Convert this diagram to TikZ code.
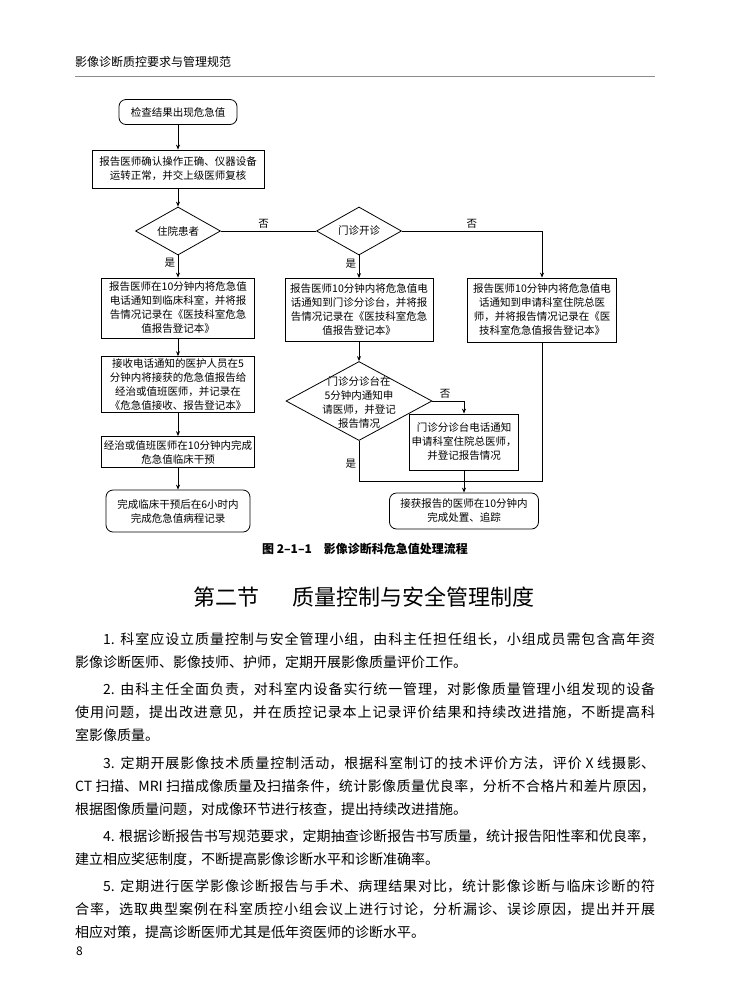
\documentclass[tikz,border=0pt]{standalone}
\usepackage{fontspec}
\setmainfont{Noto Sans CJK SC}
\usetikzlibrary{shapes.geometric,arrows.meta,positioning}
\XeTeXlinebreaklocale "zh"
\XeTeXlinebreakskip=0pt plus 3pt minus 0.2pt

\begin{document}
\begin{tikzpicture}
	[
	  x=1pt, y=-1pt,
	  every node/.style={inner sep=0pt},
	  flow/.style={font=\fontsize{10.5}{14}\selectfont, align=center},
	  box/.style={flow, draw, line width=0.8pt, inner sep=2pt},
	  roundbox/.style={box, rounded corners=7pt},
	  decide/.style={flow, draw, line width=0.8pt, diamond, shape aspect=1.8,
	    minimum width=85pt, minimum height=48pt},
	  lab/.style={font=\fontsize{10.5}{12}\selectfont, inner sep=2.5pt},
	  body/.style={font=\fontsize{14}{23}\selectfont, text width=580pt,
	    align=justify, anchor=north west},
	  flowline/.style={line width=0.8pt},
	  arrow/.style={flowline, -{Stealth[length=5pt,width=4pt]}},
	]
	\fill [white] (0,0) rectangle (730,1005);
	\useasboundingbox (0,0) rectangle (730,1005);

	% running head
	\node (header) [anchor=west, font=\fontsize{12}{14}\selectfont] at (75,62) {影像诊断质控要求与管理规范};
	\draw [black!45, line width=1pt] (75,76) -- (655,76);

	% flow chart
	\node (start) [roundbox, minimum width=118pt, minimum height=25pt] at (178,112) {检查结果出现危急值};
	\node (check) [box, minimum width=172pt, minimum height=38pt] at (178,169)
	  {报告医师确认操作正确、仪器设备\\运转正常，并交上级医师复核};
	\node (inpat) [decide] at (178,231) {住院患者};
	\node (outpat) [decide] at (359,231) {门诊开诊};
	\node (ward) [box, minimum width=153pt, minimum height=60pt] at (178,308)
	  {报告医师在10分钟内将危急值\\电话通知到临床科室，并将报\\告情况记录在《医技科室危急\\值报告登记本》};
	\node (nurse) [box, minimum width=153pt, minimum height=55pt] at (178,384.5)
	  {接收电话通知的医护人员在5\\分钟内将接获的危急值报告给\\经治或值班医师，并记录在\\《危急值接收、报告登记本》};
	\node (treat) [box, minimum width=153pt, minimum height=31pt] at (178,452)
	  {经治或值班医师在10分钟内完成\\危急值临床干预};
	\node (record) [roundbox, minimum width=144pt, minimum height=42pt] at (178,511)
	  {完成临床干预后在6小时内\\完成危急值病程记录};
	\node (triage) [box, minimum width=148pt, minimum height=63pt] at (359,310)
	  {报告医师10分钟内将危急值电\\话通知到门诊分诊台，并将报\\告情况记录在《医技科室危急\\值报告登记本》};
	\node (notify) [decide, minimum width=146pt, minimum height=79pt] at (359,401) {};
	\node (notifytext) [flow] at (359,403) {门诊分诊台在\\5分钟内通知申\\请医师，并登记\\报告情况};
	\node (resident) [box, minimum width=104pt, minimum height=56pt] at (464,442)
	  {门诊分诊台电话通知\\申请科室住院总医师，\\并登记报告情况};
	\node (final) [roundbox, minimum width=149pt, minimum height=36pt] at (464,511)
	  {接获报告的医师在10分钟内\\完成处置、追踪};
	\node (apply) [box, minimum width=149pt, minimum height=64pt] at (542,310)
	  {报告医师10分钟内将危急值电\\话通知到申请科室住院总医\\师，并将报告情况记录在《医\\技科室危急值报告登记本》};

	\path [arrow]
	  (start) edge (check)
	  (check) edge (inpat)
	  (inpat) edge node [lab, left, pos=0.35] {是} (ward)
	  (outpat) edge node [lab, left, pos=0.35] {是} (triage)
	  (ward) edge (nurse)
	  (nurse) edge (treat)
	  (treat) edge (record)
	  (triage) edge (notify)
	  (resident) edge (final)
	  ;
	\draw [flowline] (inpat) -- node [lab, above, pos=0.45] {否} (outpat);
	\draw [arrow] (outpat.east) -| node [lab, above, pos=0.25] {否} (apply.north);
	\draw [arrow] (notify.east) -| node [lab, above, pos=0.2] {否} (resident.north);
	\coordinate (joinl) at (notify.south |- 0,481);
	\coordinate (joinr) at (apply.south |- 0,481);
	\draw [flowline] (notify.south) -- node [lab, left, pos=0.56] {是} (joinl) -- (joinr) -- (apply.south);

	% caption and section
	\node (caption) [font=\fontsize{12}{14}\selectfont\bfseries] at (365,549) {图 2–1–1\hspace{1em}影像诊断科危急值处理流程};
	\node (section) [font=\fontsize{22}{26}\selectfont] at (364,597) {第二节\hspace{1.5em}质量控制与安全管理制度};

	% body text
	\node (p1) [body] at (75,632) {\hspace*{2em}1. 科室应设立质量控制与安全管理小组，由科主任担任组长，小组成员需包含高年资\linebreak
	  影像诊断医师、影像技师、护师，定期开展影像质量评价工作。};
	\node (p2) [body] at (75,682) {\hspace*{2em}2. 由科主任全面负责，对科室内设备实行统一管理，对影像质量管理小组发现的设备\linebreak
	  使用问题，提出改进意见，并在质控记录本上记录评价结果和持续改进措施，不断提高科\linebreak
	  室影像质量。};
	\node (p3) [body] at (75,756) {\hspace*{2em}3. 定期开展影像技术质量控制活动，根据科室制订的技术评价方法，评价 X 线摄影、\linebreak
	  CT 扫描、MRI 扫描成像质量及扫描条件，统计影像质量优良率，分析不合格片和差片原因，\linebreak
	  根据图像质量问题，对成像环节进行核查，提出持续改进措施。};
	\node (p4) [body] at (75,829) {\hspace*{2em}4. 根据诊断报告书写规范要求，定期抽查诊断报告书写质量，统计报告阳性率和优良率，\linebreak
	  建立相应奖惩制度，不断提高影像诊断水平和诊断准确率。};
	\node (p5) [body] at (75,879) {\hspace*{2em}5. 定期进行医学影像诊断报告与手术、病理结果对比，统计影像诊断与临床诊断的符\linebreak
	  合率，选取典型案例在科室质控小组会议上进行讨论，分析漏诊、误诊原因，提出并开展\linebreak
	  相应对策，提高诊断医师尤其是低年资医师的诊断水平。};

	\node (folio) [anchor=west, font=\fontsize{12}{14}\selectfont] at (76,951) {8};
\end{tikzpicture}
\end{document}
